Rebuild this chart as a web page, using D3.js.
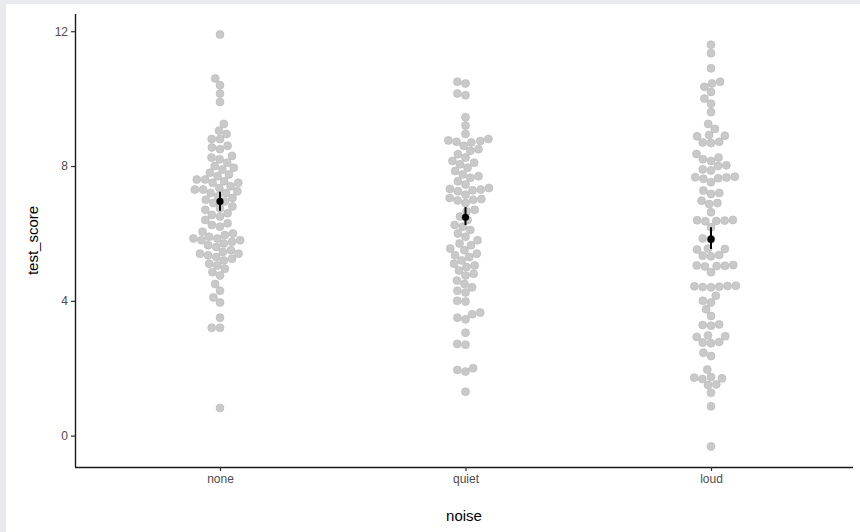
<!DOCTYPE html>
<html><head><meta charset="utf-8">
<script src="https://cdn.jsdelivr.net/npm/d3@7"></script>
<style>body{margin:0;background:#e9eaee;}svg{display:block;}</style>
</head><body>
<svg id="chart" width="860" height="532"></svg>
<script>
const categories = ["none", "quiet", "loud"];
const noneScores = [11.9,10.6,10.4,10.15,9.9,9.25,9.05,8.95,8.8,8.8,8.6,8.55,8.5,8.3,8.25,8.2,8.1,8.0,7.95,7.9,7.8,7.75,7.7,7.6,7.6,7.55,7.5,7.5,7.4,7.35,7.3,7.3,7.25,7.2,7.2,7.1,7.05,7.0,6.95,6.9,6.8,6.75,6.7,6.6,6.55,6.5,6.4,6.3,6.25,6.2,6.05,6.0,5.95,5.9,5.85,5.85,5.8,5.8,5.75,5.7,5.65,5.6,5.5,5.45,5.4,5.4,5.35,5.3,5.25,5.2,5.1,5.05,4.95,4.85,4.75,4.5,4.3,4.1,3.95,3.5,3.2,3.2,0.82];
const quietScores = [10.5,10.45,10.15,10.1,9.45,9.2,8.95,8.8,8.76,8.74,8.72,8.7,8.6,8.5,8.45,8.35,8.25,8.15,8.1,8.05,7.95,7.85,7.75,7.7,7.65,7.55,7.45,7.35,7.32,7.3,7.28,7.25,7.15,7.05,7.02,7.0,6.98,6.9,6.7,6.65,6.5,6.4,6.25,6.2,6.1,6.0,5.9,5.8,5.7,5.65,5.55,5.5,5.4,5.35,5.3,5.2,5.1,5.05,5.0,4.9,4.8,4.75,4.6,4.5,4.4,4.3,4.25,4.0,3.98,3.65,3.6,3.5,3.45,3.05,2.72,2.7,2.0,1.95,1.9,1.3];
const loudScores = [11.6,11.35,10.9,10.5,10.45,10.35,10.2,10.0,9.85,9.6,9.25,9.1,8.92,8.9,8.88,8.72,8.7,8.68,8.36,8.25,8.2,8.15,8.02,8.0,7.9,7.87,7.68,7.67,7.66,7.64,7.62,7.52,7.27,7.2,7.17,6.97,6.9,6.87,6.63,6.4,6.39,6.38,6.37,6.36,6.18,5.85,5.83,5.55,5.54,5.52,5.36,5.34,5.32,5.06,5.05,5.04,5.03,5.02,4.85,4.45,4.44,4.43,4.42,4.41,4.40,4.15,4.0,3.95,3.75,3.55,3.3,3.28,3.26,2.97,2.95,2.93,2.78,2.76,2.74,2.46,2.36,1.96,1.74,1.72,1.70,1.68,1.52,1.5,1.27,0.87,-0.32];
const meanScores = [6.95, 6.48, 5.83];
const lowerScores = [6.67, 6.25, 5.54];
const upperScores = [7.24, 6.78, 6.18];
const yTicks = [0, 4, 8, 12];

const svg = d3.select("#chart");
const W = 860, H = 532;
svg.append("rect").attr("x", 6).attr("y", 4).attr("width", W - 6).attr("height", H - 4).attr("fill", "#ffffff");

const m = {left: 75, right: 7, top: 14, bottom: 65};
const x = d3.scalePoint().domain(categories).range([220, 711]);
const yMin = -0.32, yMax = 11.9, ex = (yMax - yMin) * 0.05;
const y = d3.scaleLinear().domain([yMin - ex, yMax + ex]).range([H - m.bottom, m.top]);

// beeswarm layout
const d = 8.3;
function swarm(vals) {
  const sorted = vals.map(v => ({v, py: y(v)})).sort((a, b) => a.v - b.v);
  const placed = [];
  for (const p of sorted) {
    const near = placed.filter(q => Math.abs(q.py - p.py) < d);
    const cands = [0];
    for (const q of near) {
      const dx = Math.sqrt(d * d - (q.py - p.py) ** 2);
      cands.push(q.dx + dx, q.dx - dx);
    }
    cands.sort((a, b) => Math.abs(a) - Math.abs(b) || a - b);
    for (const c of cands) {
      const ok = near.every(q => (q.dx - c) ** 2 + (q.py - p.py) ** 2 >= d * d - 0.01);
      if (ok) { p.dx = c; break; }
    }
    placed.push(p);
  }
  return placed;
}
const groups = [noneScores, quietScores, loudScores];

const g = svg.append("g");
groups.forEach((vals, i) => {
  const cx = x(categories[i]);
  g.selectAll(null).data(swarm(vals)).enter().append("circle")
    .attr("cx", p => cx + p.dx).attr("cy", p => p.py).attr("r", 4)
    .attr("fill", "#c9c9c9").attr("stroke", "#b8b8b8").attr("stroke-width", 0.6);
});

// summary
categories.forEach((c, i) => {
  g.append("line").attr("x1", x(c)).attr("x2", x(c))
    .attr("y1", y(lowerScores[i])).attr("y2", y(upperScores[i]))
    .attr("stroke", "#000").attr("stroke-width", 2);
  g.append("circle").attr("cx", x(c)).attr("cy", y(meanScores[i])).attr("r", 3.6).attr("fill", "#000");
});

// axes
const font = "Liberation Sans, Arial, sans-serif";
const yAxis = svg.append("g").attr("transform", `translate(${m.left},0)`)
  .call(d3.axisLeft(y).tickValues(yTicks).tickSize(4).tickPadding(3));
const xAxis = svg.append("g").attr("transform", `translate(0,${H - m.bottom})`)
  .call(d3.axisBottom(x).tickSize(4).tickPadding(3));
xAxis.select(".domain").attr("d", `M${m.left},0.5H${W - m.right}`);
yAxis.select(".domain").attr("d", `M0.5,${m.top}V${H - m.bottom}`);
[xAxis, yAxis].forEach(a => {
  a.select(".domain").attr("stroke", "#1a1a1a").attr("stroke-width", 1.4);
  a.selectAll(".tick line").attr("stroke", "#333").attr("stroke-width", 1.2);
  a.selectAll(".tick text").attr("fill", "#4d4d4d").style("font-family", font).style("font-size", "12px");
});

svg.append("text").attr("x", (m.left + W - m.right) / 2).attr("y", 521)
  .attr("text-anchor", "middle").style("font-family", font).style("font-size", "15px").attr("fill", "#000").text("noise");
svg.append("text").attr("transform", `translate(38,${(m.top + H - m.bottom) / 2}) rotate(-90)`)
  .attr("text-anchor", "middle").style("font-family", font).style("font-size", "15px").attr("fill", "#000").text("test_score");
</script>
</body></html>
